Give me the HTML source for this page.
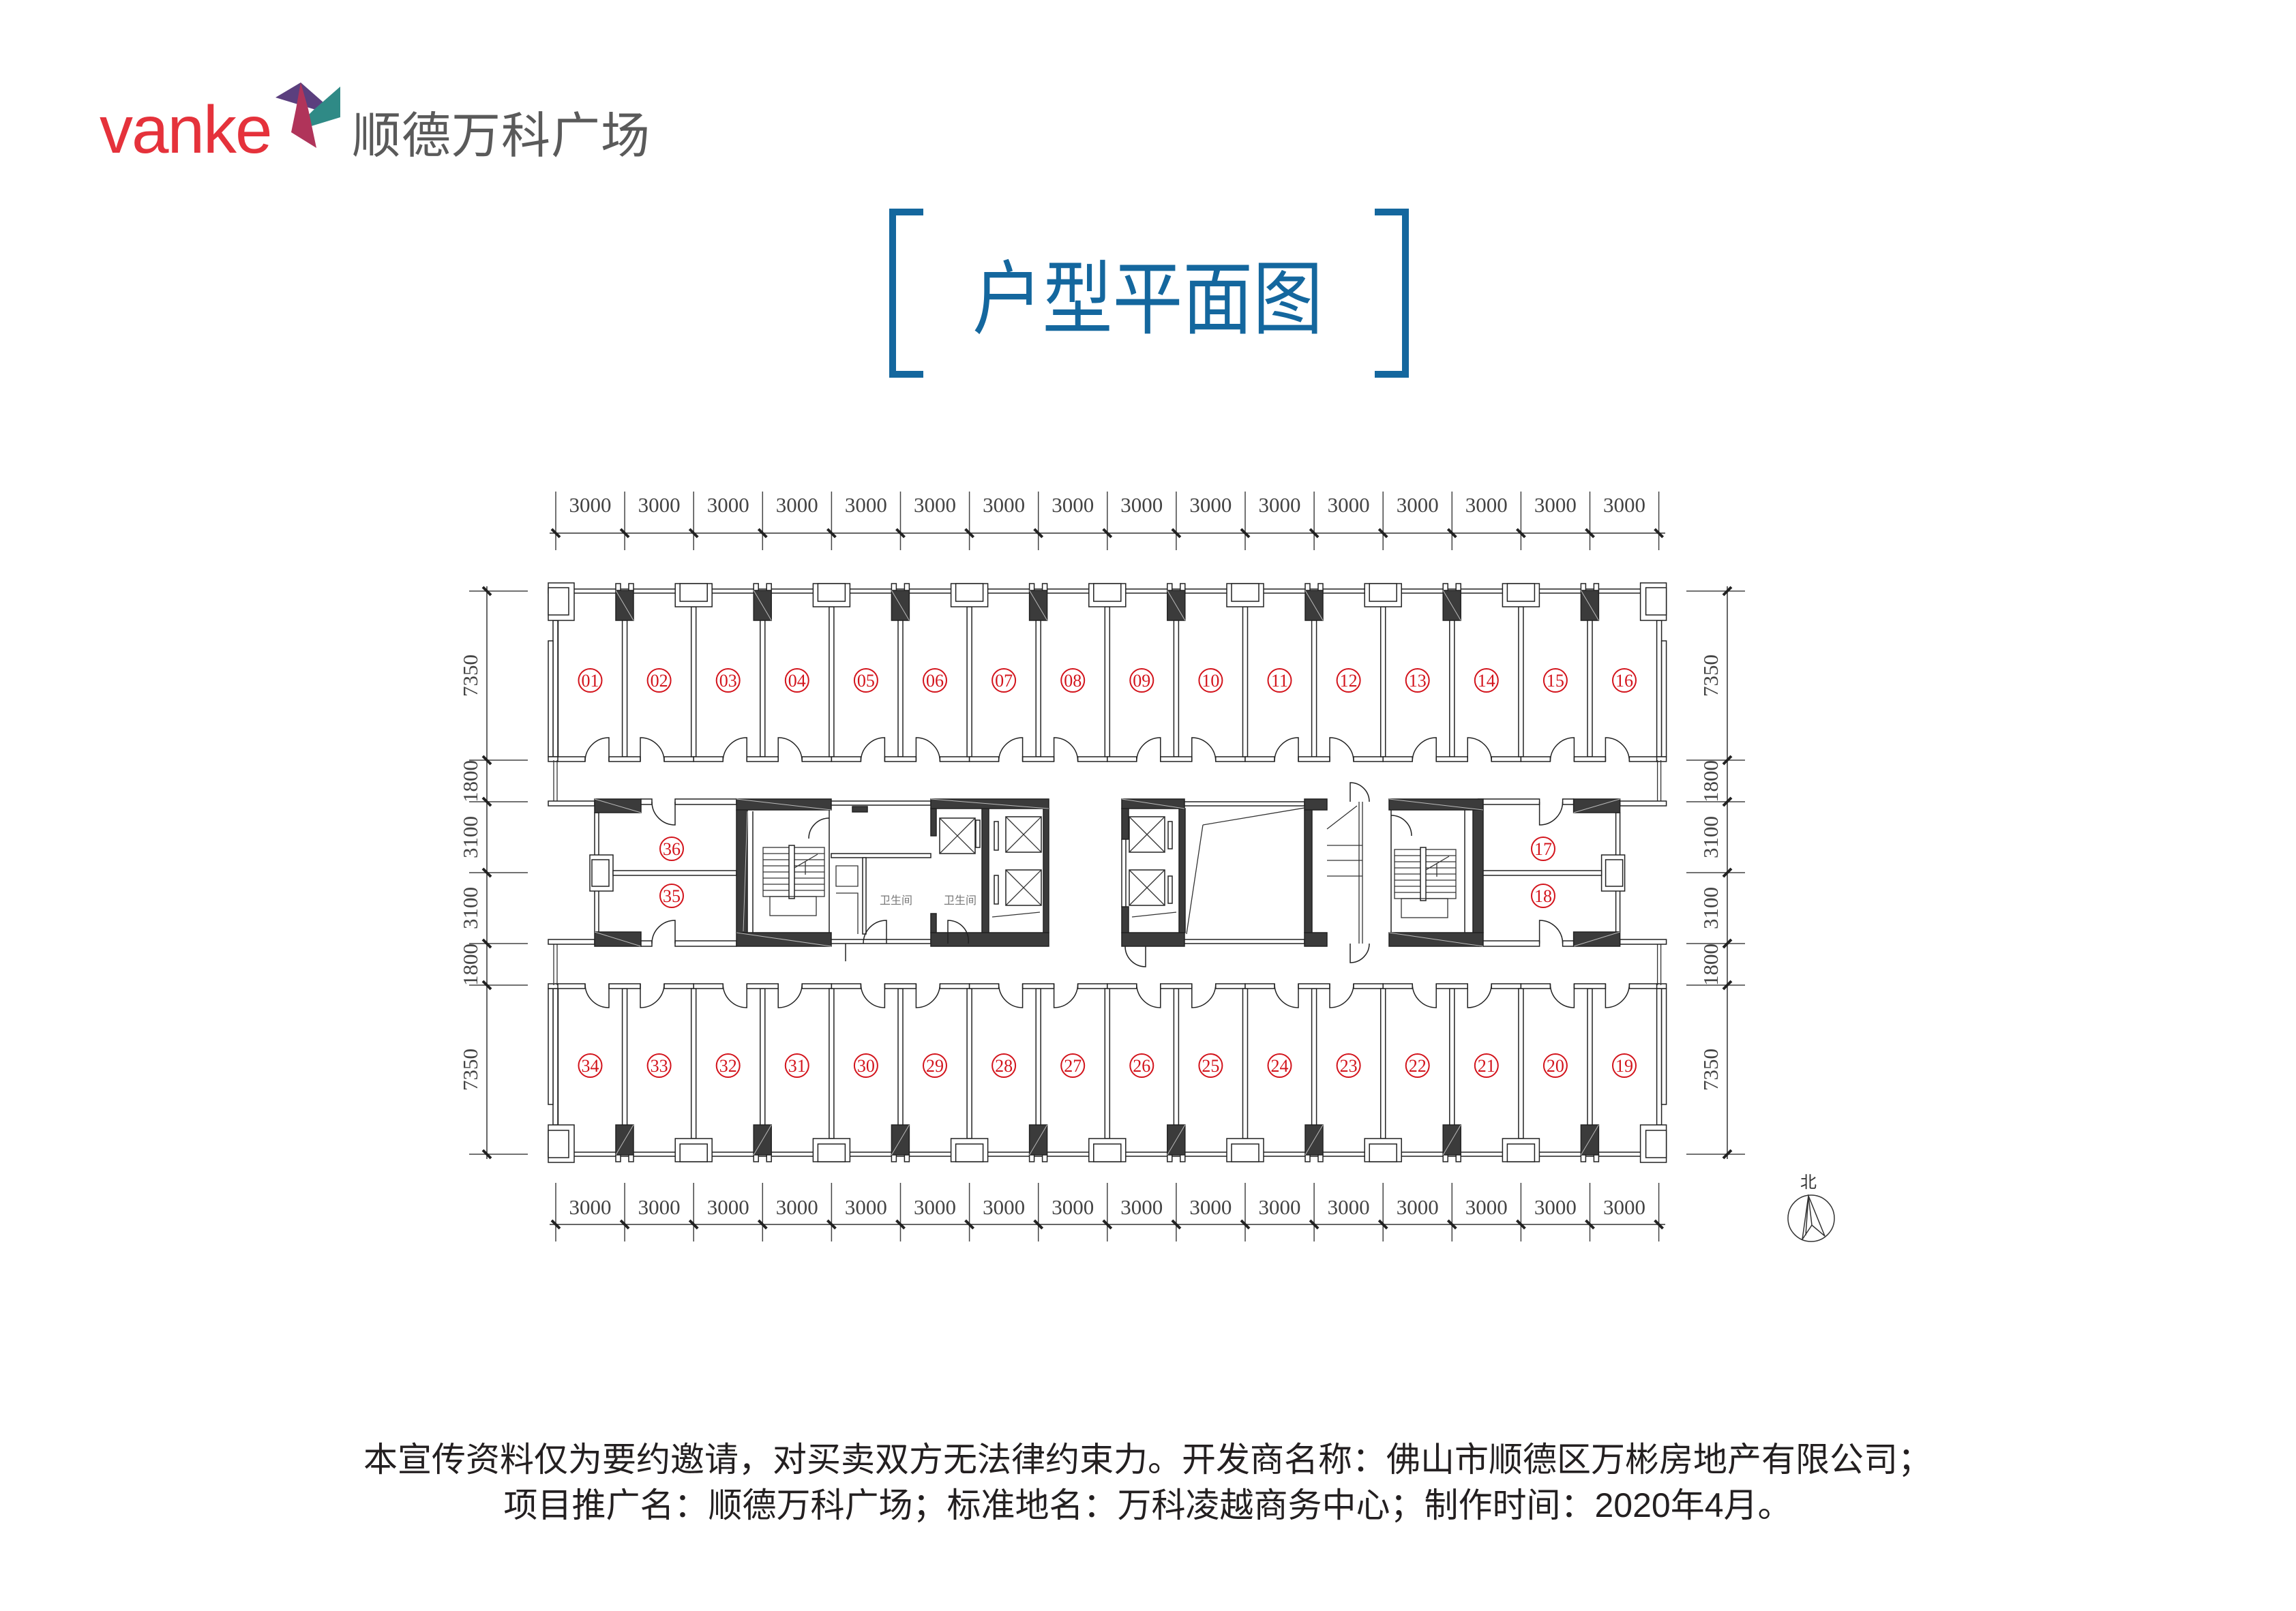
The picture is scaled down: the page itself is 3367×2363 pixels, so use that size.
<!DOCTYPE html>
<html><head><meta charset="utf-8"><style>
html,body{margin:0;padding:0;background:#fff}
svg{display:block}
.w{fill:#fff;stroke:#222;stroke-width:1.5}
.d{fill:#3b3b3b;stroke:#222;stroke-width:1.5}
.l{fill:none;stroke:#222;stroke-width:1.5}
.t{fill:none;stroke:#333;stroke-width:1.3}
.dim{font-family:"Liberation Serif",serif;font-size:31px;fill:#444}
.rn{font-family:"Liberation Serif",serif;font-size:26px;fill:#d3141c;text-anchor:middle}
.rc{fill:none;stroke:#d3141c;stroke-width:2}
.tk{stroke:#222;stroke-width:4}
</style></head><body>
<svg width="3367" height="2363" viewBox="0 0 3367 2363" xmlns="http://www.w3.org/2000/svg">
<rect width="3367" height="2363" fill="#fff"/>
<!-- logo -->
<text x="146" y="224" font-family="Liberation Sans,sans-serif" font-size="98" fill="#e5323b" letter-spacing="-2">vanke</text>
<polygon points="441,121 404,143 499,172" fill="#5b3f7e"/>
<polygon points="499,127 499,172 427,194 459,162" fill="#2f8a86"/>
<polygon points="441,121 452,160 464,217 427,194 434,160" fill="#b0345a"/>
<text x="516" y="224" font-family="Liberation Sans,'Noto Sans CJK SC',sans-serif" font-size="72" fill="#5a5a5a" letter-spacing="1">顺德万科广场</text>
<!-- title -->
<path d="M1354 311 H1309 V549 H1354" fill="none" stroke="#14679e" stroke-width="10"/>
<path d="M2016 311 H2061 V549 H2016" fill="none" stroke="#14679e" stroke-width="10"/>
<text x="1426" y="480" font-family="Liberation Sans,'Noto Sans CJK SC',sans-serif" font-size="118" fill="#14679e" textLength="514" lengthAdjust="spacingAndGlyphs">户型平面图</text>

<defs>
<g id="pt">
 <rect class="w" x="88" y="856" width="7" height="11"/>
 <rect class="w" x="107" y="856" width="7" height="11"/>
 <rect class="d" x="88" y="866" width="26" height="44"/>
 <line x1="88" y1="866" x2="114" y2="910" stroke="#bbb" stroke-width="1"/>
 <rect class="w" x="97.6" y="910" width="7" height="200"/>
 <rect class="w" x="-3.5" y="890" width="7" height="220"/>
 <rect class="w" x="0" y="1110" width="43" height="7"/>
 <rect class="w" x="78" y="1110" width="46" height="7"/>
 <rect class="w" x="159" y="1110" width="43.2" height="7"/>
 <path class="l" d="M78 1117 V1082 A35 35 0 0 0 43 1117"/>
 <path class="l" d="M124 1117 V1082 A35 35 0 0 1 159 1117"/>
</g>
<g id="wb">
 <rect class="w" x="-27" y="856" width="54" height="34"/>
 <rect class="w" x="-20" y="856" width="40" height="26"/>
</g>
<g id="el">
 <rect class="w" x="0" y="0" width="52" height="52"/>
 <path class="t" d="M0 0 L52 52 M52 0 L0 52"/>
</g>
<g id="st">
 <rect class="t" x="0" y="0" width="90" height="72"/>
 <path class="t" d="M0 9H90M0 18H90M0 27H90M0 36H90M0 45H90M0 54H90M0 63H90"/>
 <rect class="w" x="38" y="-3" width="8" height="78"/>
 <rect class="t" x="10" y="72" width="68" height="28"/>
 <path class="t" d="M46 30 L80 10 M62 20 V40"/>
</g>
<g id="wing">
 <path class="t" d="M812 1115 V1175 M817 1115 V1175 M812 1385 V1445 M817 1385 V1445"/>
 <rect class="w" x="804" y="1175" width="68" height="7"/>
 <rect class="w" x="804" y="1378" width="68" height="7"/>
 <rect class="w" x="872" y="1192" width="6" height="175"/>
 <rect class="d" x="872" y="1172" width="68" height="20"/>
 <line x1="872" y1="1172" x2="940" y2="1192" stroke="#bbb"/>
 <rect class="d" x="872" y="1367" width="68" height="21"/>
 <line x1="872" y1="1367" x2="940" y2="1388" stroke="#bbb"/>
 <rect class="w" x="865" y="1254" width="34" height="53"/>
 <rect class="w" x="868" y="1261" width="25" height="39"/>
 <rect class="w" x="899" y="1277" width="181" height="7"/>
 <rect class="w" x="940" y="1172" width="16" height="8"/>
 <rect class="w" x="990" y="1172" width="90" height="8"/>
 <path class="l" d="M990 1176 V1210 A34 34 0 0 1 956 1176"/>
 <rect class="w" x="940" y="1380" width="16" height="8"/>
 <rect class="w" x="990" y="1380" width="90" height="8"/>
 <path class="l" d="M990 1384 V1350 A34 34 0 0 0 956 1384"/>
</g>
</defs>

<!-- exterior walls -->
<rect class="w" x="804" y="864" width="1639" height="6"/>
<g transform="translate(0,2560) scale(1,-1)"><rect class="w" x="804" y="864" width="1639" height="6"/></g>

<!-- top rooms -->
<g>
<use href="#pt" x="815"/><use href="#pt" x="1017.2"/><use href="#pt" x="1219.4"/><use href="#pt" x="1421.6"/>
<use href="#pt" x="1623.8"/><use href="#pt" x="1826"/><use href="#pt" x="2028.2"/><use href="#pt" x="2230.4"/>
<use href="#wb" x="1017.2"/><use href="#wb" x="1219.4"/><use href="#wb" x="1421.6"/><use href="#wb" x="1623.8"/>
<use href="#wb" x="1826"/><use href="#wb" x="2028.2"/><use href="#wb" x="2230.4"/>
</g>
<g transform="translate(0,2560) scale(1,-1)">
<use href="#pt" x="815"/><use href="#pt" x="1017.2"/><use href="#pt" x="1219.4"/><use href="#pt" x="1421.6"/>
<use href="#pt" x="1623.8"/><use href="#pt" x="1826"/><use href="#pt" x="2028.2"/><use href="#pt" x="2230.4"/>
<use href="#wb" x="1017.2"/><use href="#wb" x="1219.4"/><use href="#wb" x="1421.6"/><use href="#wb" x="1623.8"/>
<use href="#wb" x="1826"/><use href="#wb" x="2028.2"/><use href="#wb" x="2230.4"/>
</g>
<!-- end walls & corner boxes -->
<g id="endL">
 <rect class="w" x="811" y="910" width="7" height="200"/>
 <rect class="w" x="804" y="940" width="7" height="170"/>
 <rect class="w" x="804" y="1110" width="14" height="7"/>
 <rect class="w" x="804" y="855" width="38" height="55"/>
 <rect class="w" x="804" y="862" width="30" height="40"/>
</g>
<g transform="translate(3247.6,0) scale(-1,1)"><use href="#endL"/></g>
<g transform="translate(0,2560) scale(1,-1)"><use href="#endL"/></g>
<g transform="translate(3247.6,2560) scale(-1,-1)"><use href="#endL"/></g>

<!-- wings -->
<use href="#wing"/>
<g transform="translate(3247.6,0) scale(-1,1)"><use href="#wing"/></g>

<!-- left stair core -->
<rect class="d" x="1080" y="1172" width="139" height="16"/>
<rect class="d" x="1080" y="1368" width="139" height="20"/>
<rect class="d" x="1080" y="1188" width="16" height="180"/>
<line x1="1080" y1="1172" x2="1219" y2="1188" stroke="#bbb"/>
<line x1="1080" y1="1368" x2="1219" y2="1388" stroke="#bbb"/>
<line x1="1096" y1="1190" x2="1090" y2="1366" stroke="#bbb"/>
<path class="l" d="M1104 1190 V1368 M1216 1188 V1368"/>
<use href="#st" x="1119" y="1243"/>
<path class="l" d="M1216 1200 A30 30 0 0 0 1186 1230"/>
<!-- area with wc -->
<rect class="w" x="1219" y="1175" width="146" height="6"/>
<rect class="d" x="1250" y="1183" width="22" height="8"/>
<rect class="w" x="1219" y="1252" width="146" height="6"/>
<rect class="w" x="1265" y="1258" width="5" height="112"/>
<path class="t" d="M1226 1270 H1258 V1300 H1226Z M1226 1310 H1258 V1370"/>
<rect class="w" x="1219" y="1378" width="146" height="6"/>
<path class="l" d="M1300 1384 V1350 A34 34 0 0 0 1266 1384"/>
<path class="l" d="M1240 1384 V1410"/>
<text x="1314" y="1326" font-family="Liberation Sans,'Noto Sans CJK SC',sans-serif" font-size="16" fill="#777" text-anchor="middle">卫生间</text>
<!-- left elevator core -->
<rect class="d" x="1365" y="1172" width="173" height="14"/>
<rect class="d" x="1365" y="1368" width="173" height="20"/>
<rect class="d" x="1365" y="1186" width="8" height="40"/>
<rect class="d" x="1530" y="1186" width="8" height="182"/>
<rect class="d" x="1440" y="1186" width="10" height="182"/>
<rect class="d" x="1365" y="1340" width="8" height="28"/>
<line x1="1365" y1="1172" x2="1538" y2="1186" stroke="#bbb"/>
<use href="#el" x="1378" y="1200"/>
<rect class="w" x="1431" y="1203" width="6" height="40"/>
<use href="#el" x="1475" y="1198"/><use href="#el" x="1475" y="1276"/>
<rect class="w" x="1458" y="1205" width="6" height="42"/><rect class="w" x="1458" y="1284" width="6" height="42"/>
<path class="t" d="M1455 1345 L1525 1338"/>
<text x="1408" y="1326" font-family="Liberation Sans,'Noto Sans CJK SC',sans-serif" font-size="16" fill="#777" text-anchor="middle">卫生间</text>
<path class="l" d="M1390 1384 V1350 A30 30 0 0 1 1420 1384"/>
<!-- right elevator core -->
<rect class="d" x="1645" y="1172" width="92" height="14"/>
<rect class="d" x="1645" y="1368" width="92" height="20"/>
<rect class="d" x="1645" y="1186" width="10" height="45"/>
<rect class="d" x="1645" y="1330" width="10" height="38"/>
<rect class="w" x="1645" y="1231" width="6" height="99"/>
<rect class="d" x="1729" y="1186" width="9" height="182"/>
<line x1="1645" y1="1172" x2="1737" y2="1186" stroke="#bbb"/>
<use href="#el" x="1656" y="1198"/><use href="#el" x="1656" y="1276"/>
<rect class="w" x="1713" y="1205" width="6" height="40"/><rect class="w" x="1713" y="1285" width="6" height="40"/>
<path class="t" d="M1660 1345 L1725 1338"/>
<path class="l" d="M1680 1388 V1418 A30 30 0 0 1 1650 1388"/>
<!-- shaft -->
<rect class="w" x="1737" y="1176" width="176" height="6"/>
<rect class="w" x="1737" y="1378" width="176" height="6"/>
<path class="t" d="M1764 1210 L1913 1185 M1764 1210 L1740 1370"/>
<rect class="d" x="1913" y="1172" width="33" height="16"/>
<rect class="d" x="1913" y="1368" width="33" height="20"/>
<rect class="d" x="1913" y="1188" width="11" height="180"/>
<!-- strip -->
<path class="t" d="M1998 1176 V1384 M1993 1176 V1384 M1946 1240 H1998 M1946 1262 H1998 M1946 1285 H1998 M1946 1216 L1990 1182"/>
<path class="l" d="M1980 1176 V1148 A28 28 0 0 1 2008 1176 M1980 1384 V1412 A28 28 0 0 0 2008 1384"/>
<!-- right stair -->
<rect class="d" x="2037" y="1172" width="138" height="16"/>
<rect class="d" x="2037" y="1368" width="138" height="20"/>
<rect class="d" x="2160" y="1188" width="15" height="180"/>
<line x1="2037" y1="1172" x2="2175" y2="1188" stroke="#bbb"/>
<line x1="2037" y1="1368" x2="2175" y2="1388" stroke="#bbb"/>
<path class="l" d="M2040 1188 V1368 M2148 1188 V1368"/>
<use href="#st" x="2045" y="1246"/>
<path class="l" d="M2040 1196 A30 30 0 0 1 2070 1226"/>

<!-- room numbers top -->
<g>
<circle class="rc" cx="865.5" cy="998" r="17"/><text class="rn" x="865.5" y="1007">01</text>
<circle class="rc" cx="966.6" cy="998" r="17"/><text class="rn" x="966.6" y="1007">02</text>
<circle class="rc" cx="1067.7" cy="998" r="17"/><text class="rn" x="1067.7" y="1007">03</text>
<circle class="rc" cx="1168.8" cy="998" r="17"/><text class="rn" x="1168.8" y="1007">04</text>
<circle class="rc" cx="1269.9" cy="998" r="17"/><text class="rn" x="1269.9" y="1007">05</text>
<circle class="rc" cx="1371" cy="998" r="17"/><text class="rn" x="1371" y="1007">06</text>
<circle class="rc" cx="1472.1" cy="998" r="17"/><text class="rn" x="1472.1" y="1007">07</text>
<circle class="rc" cx="1573.2" cy="998" r="17"/><text class="rn" x="1573.2" y="1007">08</text>
<circle class="rc" cx="1674.3" cy="998" r="17"/><text class="rn" x="1674.3" y="1007">09</text>
<circle class="rc" cx="1775.4" cy="998" r="17"/><text class="rn" x="1775.4" y="1007">10</text>
<circle class="rc" cx="1876.5" cy="998" r="17"/><text class="rn" x="1876.5" y="1007">11</text>
<circle class="rc" cx="1977.6" cy="998" r="17"/><text class="rn" x="1977.6" y="1007">12</text>
<circle class="rc" cx="2078.7" cy="998" r="17"/><text class="rn" x="2078.7" y="1007">13</text>
<circle class="rc" cx="2179.8" cy="998" r="17"/><text class="rn" x="2179.8" y="1007">14</text>
<circle class="rc" cx="2280.9" cy="998" r="17"/><text class="rn" x="2280.9" y="1007">15</text>
<circle class="rc" cx="2382" cy="998" r="17"/><text class="rn" x="2382" y="1007">16</text>
</g>
<g>
<circle class="rc" cx="865.5" cy="1563" r="17"/><text class="rn" x="865.5" y="1572">34</text>
<circle class="rc" cx="966.6" cy="1563" r="17"/><text class="rn" x="966.6" y="1572">33</text>
<circle class="rc" cx="1067.7" cy="1563" r="17"/><text class="rn" x="1067.7" y="1572">32</text>
<circle class="rc" cx="1168.8" cy="1563" r="17"/><text class="rn" x="1168.8" y="1572">31</text>
<circle class="rc" cx="1269.9" cy="1563" r="17"/><text class="rn" x="1269.9" y="1572">30</text>
<circle class="rc" cx="1371" cy="1563" r="17"/><text class="rn" x="1371" y="1572">29</text>
<circle class="rc" cx="1472.1" cy="1563" r="17"/><text class="rn" x="1472.1" y="1572">28</text>
<circle class="rc" cx="1573.2" cy="1563" r="17"/><text class="rn" x="1573.2" y="1572">27</text>
<circle class="rc" cx="1674.3" cy="1563" r="17"/><text class="rn" x="1674.3" y="1572">26</text>
<circle class="rc" cx="1775.4" cy="1563" r="17"/><text class="rn" x="1775.4" y="1572">25</text>
<circle class="rc" cx="1876.5" cy="1563" r="17"/><text class="rn" x="1876.5" y="1572">24</text>
<circle class="rc" cx="1977.6" cy="1563" r="17"/><text class="rn" x="1977.6" y="1572">23</text>
<circle class="rc" cx="2078.7" cy="1563" r="17"/><text class="rn" x="2078.7" y="1572">22</text>
<circle class="rc" cx="2179.8" cy="1563" r="17"/><text class="rn" x="2179.8" y="1572">21</text>
<circle class="rc" cx="2280.9" cy="1563" r="17"/><text class="rn" x="2280.9" y="1572">20</text>
<circle class="rc" cx="2382" cy="1563" r="17"/><text class="rn" x="2382" y="1572">19</text>
</g>
<circle class="rc" cx="985" cy="1245" r="17"/><text class="rn" x="985" y="1254">36</text>
<circle class="rc" cx="985" cy="1314" r="17"/><text class="rn" x="985" y="1323">35</text>
<circle class="rc" cx="2263" cy="1245" r="17"/><text class="rn" x="2263" y="1254">17</text>
<circle class="rc" cx="2263" cy="1314" r="17"/><text class="rn" x="2263" y="1323">18</text>

<!-- dimensions top/bottom -->
<defs>
<g id="hx"><line x1="0" y1="-25" x2="0" y2="61" stroke="#444" stroke-width="1.5"/><line x1="-6" y1="6" x2="6" y2="-6" class="tk"/></g>
<g id="vx"><line x1="-26" y1="0" x2="60" y2="0" stroke="#444" stroke-width="1.5"/><line x1="-6" y1="-6" x2="6" y2="6" class="tk"/></g>
</defs>
<line x1="806" y1="782" x2="2442" y2="782" stroke="#333" stroke-width="1.5"/>
<line x1="806" y1="1796" x2="2442" y2="1796" stroke="#333" stroke-width="1.5"/>
<g transform="translate(0,782) scale(1,-1)">
<use href="#hx" x="815"/><use href="#hx" x="916.1"/><use href="#hx" x="1017.2"/><use href="#hx" x="1118.3"/><use href="#hx" x="1219.4"/><use href="#hx" x="1320.5"/><use href="#hx" x="1421.6"/><use href="#hx" x="1522.7"/><use href="#hx" x="1623.8"/><use href="#hx" x="1724.9"/><use href="#hx" x="1826"/><use href="#hx" x="1927.1"/><use href="#hx" x="2028.2"/><use href="#hx" x="2129.3"/><use href="#hx" x="2230.4"/><use href="#hx" x="2331.5"/><use href="#hx" x="2432.6"/>
</g>
<g transform="translate(0,1796)">
<use href="#hx" x="815" transform="scale(1,-1)"/><use href="#hx" x="916.1" transform="scale(1,-1)"/><use href="#hx" x="1017.2" transform="scale(1,-1)"/><use href="#hx" x="1118.3" transform="scale(1,-1)"/><use href="#hx" x="1219.4" transform="scale(1,-1)"/><use href="#hx" x="1320.5" transform="scale(1,-1)"/><use href="#hx" x="1421.6" transform="scale(1,-1)"/><use href="#hx" x="1522.7" transform="scale(1,-1)"/><use href="#hx" x="1623.8" transform="scale(1,-1)"/><use href="#hx" x="1724.9" transform="scale(1,-1)"/><use href="#hx" x="1826" transform="scale(1,-1)"/><use href="#hx" x="1927.1" transform="scale(1,-1)"/><use href="#hx" x="2028.2" transform="scale(1,-1)"/><use href="#hx" x="2129.3" transform="scale(1,-1)"/><use href="#hx" x="2230.4" transform="scale(1,-1)"/><use href="#hx" x="2331.5" transform="scale(1,-1)"/><use href="#hx" x="2432.6" transform="scale(1,-1)"/>
</g>
<g class="dim" text-anchor="middle">
<text x="865.5" y="751">3000</text><text x="966.6" y="751">3000</text><text x="1067.7" y="751">3000</text><text x="1168.8" y="751">3000</text><text x="1269.9" y="751">3000</text><text x="1371" y="751">3000</text><text x="1472.1" y="751">3000</text><text x="1573.2" y="751">3000</text><text x="1674.3" y="751">3000</text><text x="1775.4" y="751">3000</text><text x="1876.5" y="751">3000</text><text x="1977.6" y="751">3000</text><text x="2078.7" y="751">3000</text><text x="2179.8" y="751">3000</text><text x="2280.9" y="751">3000</text><text x="2382" y="751">3000</text>
<text x="865.5" y="1781">3000</text><text x="966.6" y="1781">3000</text><text x="1067.7" y="1781">3000</text><text x="1168.8" y="1781">3000</text><text x="1269.9" y="1781">3000</text><text x="1371" y="1781">3000</text><text x="1472.1" y="1781">3000</text><text x="1573.2" y="1781">3000</text><text x="1674.3" y="1781">3000</text><text x="1775.4" y="1781">3000</text><text x="1876.5" y="1781">3000</text><text x="1977.6" y="1781">3000</text><text x="2078.7" y="1781">3000</text><text x="2179.8" y="1781">3000</text><text x="2280.9" y="1781">3000</text><text x="2382" y="1781">3000</text>
</g>
<!-- left/right dims -->
<line x1="714" y1="860" x2="714" y2="1700" stroke="#333" stroke-width="1.5"/>
<line x1="2533" y1="860" x2="2533" y2="1700" stroke="#333" stroke-width="1.5"/>
<g transform="translate(714,0)">
<use href="#vx" y="867"/><use href="#vx" y="1115"/><use href="#vx" y="1176"/><use href="#vx" y="1280"/><use href="#vx" y="1384"/><use href="#vx" y="1445"/><use href="#vx" y="1693"/>
</g>
<g transform="translate(2533,0) scale(-1,1)">
<use href="#vx" y="867"/><use href="#vx" y="1115"/><use href="#vx" y="1176"/><use href="#vx" y="1280"/><use href="#vx" y="1384"/><use href="#vx" y="1445"/><use href="#vx" y="1693"/>
</g>
<g class="dim" text-anchor="middle">
<text transform="translate(700,991) rotate(-90)">7350</text>
<text transform="translate(700,1146) rotate(-90)">1800</text>
<text transform="translate(700,1228) rotate(-90)">3100</text>
<text transform="translate(700,1332) rotate(-90)">3100</text>
<text transform="translate(700,1415) rotate(-90)">1800</text>
<text transform="translate(700,1569) rotate(-90)">7350</text>
<text transform="translate(2519,991) rotate(-90)">7350</text>
<text transform="translate(2519,1146) rotate(-90)">1800</text>
<text transform="translate(2519,1228) rotate(-90)">3100</text>
<text transform="translate(2519,1332) rotate(-90)">3100</text>
<text transform="translate(2519,1415) rotate(-90)">1800</text>
<text transform="translate(2519,1569) rotate(-90)">7350</text>
</g>
<!-- north arrow -->
<text x="2652" y="1742" font-family="Liberation Sans,'Noto Sans CJK SC',sans-serif" font-size="24" fill="#333" text-anchor="middle">北</text>
<circle cx="2656" cy="1787" r="34" fill="none" stroke="#333" stroke-width="1.5"/>
<path d="M2652 1754 L2643 1818 L2657 1797 L2676 1813 Z M2652 1754 L2657 1797 M2652 1754 L2648 1812" fill="none" stroke="#333" stroke-width="1.5"/>
<!-- footer -->
<g font-family="Liberation Sans,'Noto Sans CJK SC',sans-serif" font-size="50" fill="#231f20" text-anchor="middle">
<text x="1683" y="2158">本宣传资料仅为要约邀请，对买卖双方无法律约束力。开发商名称：佛山市顺德区万彬房地产有限公司；</text>
<text x="1683" y="2225">项目推广名：顺德万科广场；标准地名：万科凌越商务中心；制作时间：2020年4月。</text>
</g>
</svg>
</body></html>
